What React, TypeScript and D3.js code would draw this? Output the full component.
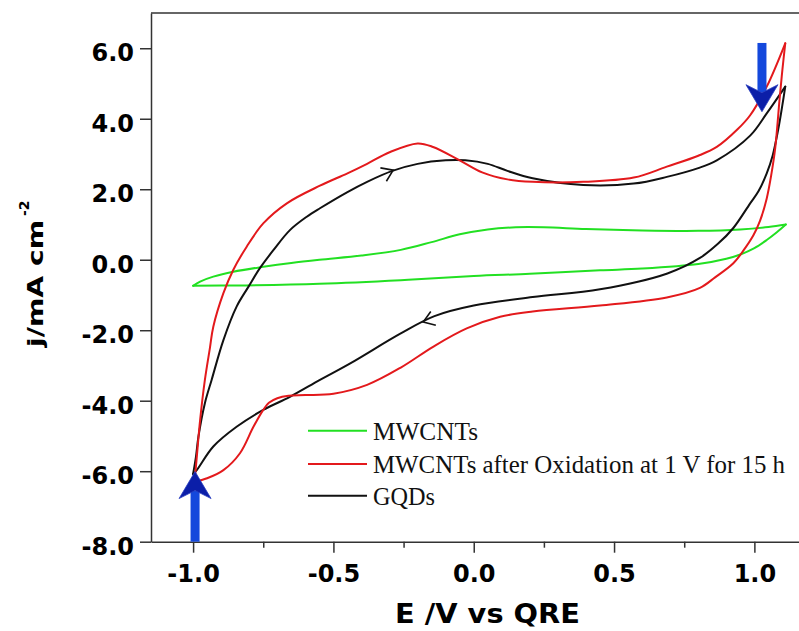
import React, { useEffect, useRef } from 'react';
import * as d3 from 'd3';

const W = 799;
const H = 631;

// Cyclic voltammograms: [E (V vs QRE), j (mA cm^-2)]
const mwcntsForward: [number, number][] = [
  [-1.0, -0.74], [-0.975, -0.62], [-0.928, -0.48], [-0.857, -0.34], [-0.75, -0.2], [-0.65, -0.09],
  [-0.55, 0.0], [-0.4, 0.12], [-0.26, 0.28], [-0.15, 0.5], [-0.05, 0.72], [0.05, 0.86], [0.15, 0.92],
  [0.25, 0.92], [0.4, 0.87], [0.6, 0.83], [0.8, 0.82], [0.95, 0.86], [1.05, 0.93], [1.112, 1.0],
];
const mwcntsReverse: [number, number][] = [
  [1.112, 1.0], [1.08, 0.78], [1.044, 0.56], [1.0, 0.33], [0.95, 0.15], [0.9, 0.03], [0.8, -0.12],
  [0.6, -0.25], [0.45, -0.3], [0.2, -0.4], [0.0, -0.46], [-0.26, -0.58], [-0.55, -0.68], [-0.85, -0.73],
  [-1.0, -0.74],
];
const oxidizedForward: [number, number][] = [
  [-0.995, -6.3], [-0.988, -5.7], [-0.975, -4.55], [-0.958, -3.41], [-0.94, -2.5], [-0.928, -1.9],
  [-0.892, -0.95], [-0.857, -0.29], [-0.809, 0.37], [-0.75, 1.03], [-0.666, 1.6], [-0.548, 2.1],
  [-0.45, 2.45], [-0.38, 2.72], [-0.3, 3.05], [-0.2, 3.3], [-0.145, 3.2], [-0.05, 2.82], [0.03, 2.48],
  [0.12, 2.28], [0.21, 2.21], [0.39, 2.21], [0.57, 2.33], [0.688, 2.64], [0.8, 2.95], [0.866, 3.2],
  [0.94, 3.7], [0.985, 4.1], [1.044, 4.91], [1.11, 6.14],
];
const oxidizedReverse: [number, number][] = [
  [1.11, 6.14], [1.1, 5.4], [1.09, 4.57], [1.074, 3.15], [1.06, 2.4], [1.044, 1.74], [1.02, 1.1],
  [0.997, 0.7], [0.96, 0.25], [0.925, -0.1], [0.86, -0.5], [0.806, -0.8], [0.688, -1.07], [0.45, -1.3],
  [0.21, -1.47], [0.094, -1.62], [-0.025, -1.95], [-0.145, -2.47], [-0.26, -3.06], [-0.38, -3.55],
  [-0.5, -3.8], [-0.6, -3.84], [-0.66, -3.86], [-0.7, -3.93], [-0.73, -4.06], [-0.75, -4.26],
  [-0.785, -4.74], [-0.833, -5.49], [-0.892, -5.97], [-0.95, -6.2], [-0.995, -6.3],
];
const gqdForward: [number, number][] = [
  [-1.0, -6.08], [-0.99, -5.6], [-0.981, -5.02], [-0.958, -4.07], [-0.934, -3.41], [-0.892, -2.28],
  [-0.845, -1.33], [-0.803, -0.77], [-0.762, -0.24], [-0.714, 0.27], [-0.655, 0.84], [-0.595, 1.22],
  [-0.548, 1.46], [-0.45, 1.92], [-0.38, 2.21], [-0.29, 2.52], [-0.2, 2.72], [-0.1, 2.82], [-0.03, 2.82],
  [0.05, 2.72], [0.12, 2.52], [0.21, 2.31], [0.39, 2.12], [0.57, 2.16], [0.688, 2.35], [0.8, 2.6],
  [0.866, 2.82], [0.985, 3.52], [1.044, 4.15], [1.11, 4.91],
];
const gqdReverse: [number, number][] = [
  [1.11, 4.91], [1.1, 4.4], [1.085, 3.7], [1.065, 2.95], [1.044, 2.45], [1.015, 1.95], [0.985, 1.6],
  [0.925, 0.9], [0.87, 0.45], [0.806, 0.05], [0.69, -0.39], [0.45, -0.84], [0.21, -1.06], [0.0, -1.3],
  [-0.14, -1.6], [-0.26, -2.09], [-0.44, -2.94], [-0.548, -3.41], [-0.655, -3.89], [-0.75, -4.26],
  [-0.845, -4.74], [-0.928, -5.3], [-0.987, -5.97], [-1.0, -6.08],
];

const seriesNames = ['MWCNTs', 'MWCNTs after Oxidation at 1 V for 15 h', 'GQDs'];
const seriesColors = ['#22e022', '#e3191c', '#111111'];

const xTicks = [-1.0, -0.5, 0.0, 0.5, 1.0];
const xMinorTicks = [-0.75, -0.25, 0.25, 0.75];
const yTicks = [-8, -6, -4, -2, 0, 2, 4, 6];

// scan-direction chevrons on the GQD curve: [tip E, tip j, from E, from j]
const gqdDirectionMarks: [number, number, number, number][] = [
  [-0.287, 2.54, -0.38, 2.21],
  [-0.18, -1.77, -0.06, -1.42],
];
// blue scan arrows: [E, j at tail, j at tip]
const scanArrows: [number, number, number][] = [
  [1.027, 6.15, 4.2],
  [-0.993, -8.0, -6.01],
];

const App: React.FC = () => {
  const ref = useRef<SVGSVGElement | null>(null);

  useEffect(() => {
    const svg = d3.select(ref.current);
    svg.selectAll('*').remove();

    const x = d3.scaleLinear().domain([-1.15, 1.159]).range([151, 799]);
    const y = d3.scaleLinear().domain([-8, 7]).range([541.7, 13]);
    const axisColor = '#333';
    const tickFont = 'DejaVu Sans, sans-serif';

    svg.append('rect').attr('width', W).attr('height', H).attr('fill', '#fff');

    // top frame line
    svg.append('line')
      .attr('x1', x(-1.15)).attr('x2', W).attr('y1', y(7)).attr('y2', y(7))
      .attr('stroke', axisColor).attr('stroke-width', 1.5);

    // left axis
    const gy = svg.append('g').attr('transform', `translate(${x(-1.15)},0)`)
      .call(d3.axisLeft(y).tickValues(yTicks).tickSize(11).tickSizeOuter(0).tickPadding(6)
        .tickFormat((d) => (+d).toFixed(1)));
    gy.select('.domain').attr('stroke', axisColor).attr('stroke-width', 1.5);
    gy.selectAll('.tick line').attr('stroke', axisColor).attr('stroke-width', 1.5);
    gy.selectAll('.tick text')
      .attr('font-family', tickFont).attr('font-weight', 'bold').attr('font-size', 24)
      .attr('fill', '#000').attr('dy', '0.52em');

    // bottom axis
    const gx = svg.append('g').attr('transform', `translate(0,${y(-8)})`)
      .call(d3.axisBottom(x).tickValues(xTicks).tickSize(11).tickSizeOuter(0).tickPadding(12)
        .tickFormat((d) => (+d).toFixed(1)));
    gx.select('.domain').attr('stroke', axisColor).attr('stroke-width', 1.5);
    gx.selectAll('.tick line').attr('stroke', axisColor).attr('stroke-width', 1.5);
    gx.selectAll('.tick text')
      .attr('font-family', tickFont).attr('font-weight', 'bold').attr('font-size', 24)
      .attr('fill', '#000');
    const gxm = svg.append('g').attr('transform', `translate(0,${y(-8)})`)
      .call(d3.axisBottom(x).tickValues(xMinorTicks).tickSize(6).tickSizeOuter(0).tickFormat(() => ''));
    gxm.select('.domain').remove();
    gxm.selectAll('.tick line').attr('stroke', axisColor).attr('stroke-width', 1.5);

    // axis titles
    svg.append('text')
      .attr('x', 395).attr('y', 623)
      .attr('font-family', tickFont).attr('font-weight', 'bold').attr('font-size', 27)
      .attr('textLength', 185).attr('lengthAdjust', 'spacingAndGlyphs')
      .text('E /V vs QRE');
    svg.append('text')
      .attr('transform', 'translate(43,347) rotate(-90)')
      .attr('font-family', tickFont).attr('font-weight', 'bold').attr('font-size', 22)
      .attr('textLength', 127).attr('lengthAdjust', 'spacingAndGlyphs')
      .text('j/mA cm');
    svg.append('text')
      .attr('transform', 'translate(29,216) rotate(-90)')
      .attr('font-family', tickFont).attr('font-weight', 'bold').attr('font-size', 14)
      .text('-2');

    // curves
    const line = d3.line<[number, number]>()
      .x((d) => x(d[0])).y((d) => y(d[1]))
      .curve(d3.curveCatmullRom.alpha(0.5));
    const curves: [[number, number][], string][] = [
      [mwcntsForward, seriesColors[0]],
      [mwcntsReverse, seriesColors[0]],
      [gqdForward, seriesColors[2]],
      [gqdReverse, seriesColors[2]],
      [oxidizedForward, seriesColors[1]],
      [oxidizedReverse, seriesColors[1]],
    ];
    curves.forEach(([data, color]) => {
      svg.append('path').datum(data).attr('d', line)
        .attr('fill', 'none').attr('stroke', color).attr('stroke-width', 2)
        .attr('stroke-linejoin', 'round').attr('stroke-linecap', 'round');
    });

    // direction chevrons
    gqdDirectionMarks.forEach(([tx, ty, fx, fy]) => {
      const px = x(tx), py = y(ty);
      const ang = Math.atan2(py - y(fy), px - x(fx));
      const len = 13, spread = 0.6;
      const a1 = ang + Math.PI - spread, a2 = ang + Math.PI + spread;
      svg.append('path')
        .attr('d', `M${px + len * Math.cos(a1)},${py + len * Math.sin(a1)}L${px},${py}L${px + len * Math.cos(a2)},${py + len * Math.sin(a2)}`)
        .attr('fill', 'none').attr('stroke', seriesColors[2]).attr('stroke-width', 1.6);
    });

    // blue scan arrows
    scanArrows.forEach(([e, j0, j1]) => {
      const cx = x(e), ty = y(j0), hy = y(j1);
      const dir = hy > ty ? 1 : -1; // 1 = pointing down
      const headLen = 27, headHalf = 16, notch = 8, shaftHalf = 4.5;
      const backY = hy - dir * headLen;
      const notchY = hy - dir * (headLen - notch);
      svg.append('rect')
        .attr('x', cx - shaftHalf).attr('width', shaftHalf * 2)
        .attr('y', Math.min(ty, notchY)).attr('height', Math.abs(notchY - ty))
        .attr('fill', '#1448dc');
      svg.append('path')
        .attr('d', `M${cx},${hy}L${cx + headHalf},${backY}L${cx},${notchY}L${cx - headHalf},${backY}Z`)
        .attr('fill', '#0b1ea8').attr('stroke', '#2a3fc0').attr('stroke-width', 0.8);
    });

    // legend
    const legendRows = [430.7, 464, 495.7];
    const legendLens = [105, 412, 62];
    seriesNames.forEach((name, i) => {
      svg.append('line')
        .attr('x1', 308).attr('x2', 367).attr('y1', legendRows[i]).attr('y2', legendRows[i])
        .attr('stroke', seriesColors[i]).attr('stroke-width', 2);
      svg.append('text')
        .attr('x', 373).attr('y', legendRows[i] + 9)
        .attr('font-family', 'Liberation Serif, Times New Roman, serif').attr('font-size', 25)
        .attr('textLength', legendLens[i]).attr('lengthAdjust', 'spacingAndGlyphs')
        .attr('fill', '#111')
        .text(name);
    });
  }, []);

  return (
    <svg ref={ref} width={W} height={H} style={{ position: 'absolute', left: 0, top: 0, display: 'block' }} />
  );
};

export default App;
